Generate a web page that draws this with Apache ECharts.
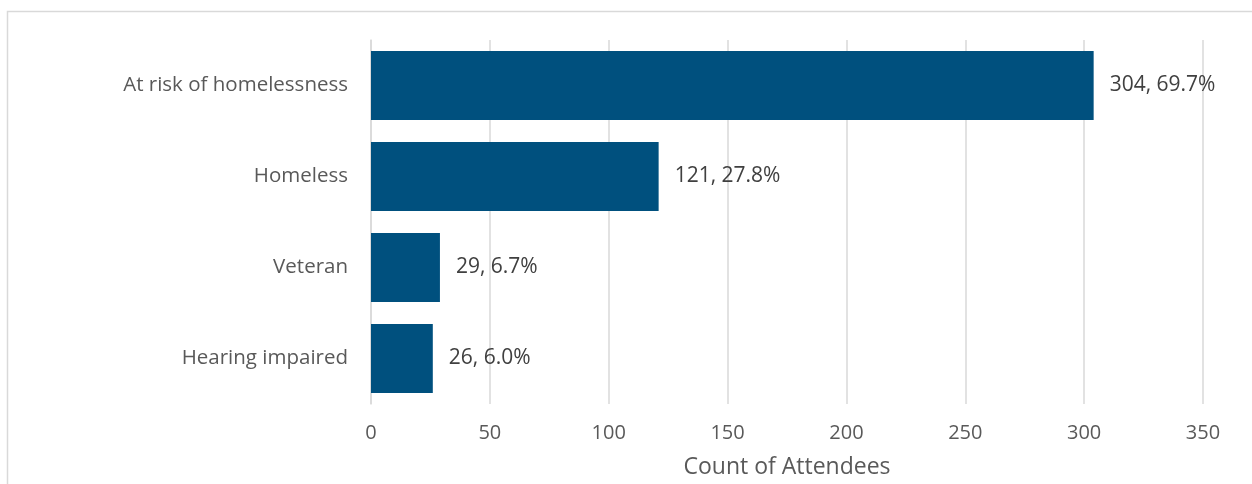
<!DOCTYPE html>
<html>
<head>
<meta charset="utf-8">
<script src="https://cdn.jsdelivr.net/npm/echarts@6/dist/echarts.min.js"></script>
<style>
  html, body { margin: 0; padding: 0; background: #fff; }
  #chart { width: 1252px; height: 484px; }
</style>
</head>
<body>
<div id="chart"></div>
<script>
const categories = ['Hearing impaired', 'Veteran', 'Homeless', 'At risk of homelessness'];
const counts = [26, 29, 121, 304];
const percents = ['6.0%', '6.7%', '27.8%', '69.7%'];
const xTicks = { min: 0, max: 350, interval: 50 };

const chart = echarts.init(document.getElementById('chart'));

const option = {
  animation: false,
  textStyle: { fontFamily: 'Open Sans' },
  graphic: [
    {
      type: 'rect',
      shape: { x: 7.5, y: 11.5, width: 1400, height: 600 },
      style: { fill: 'none', stroke: '#d9d9d9', lineWidth: 1.5 },
      silent: true,
    },
  ],
  grid: {
    left: 371,
    right: 49,
    top: 40,
    bottom: 75,
  },
  xAxis: {
    type: 'value',
    min: xTicks.min,
    max: xTicks.max,
    interval: xTicks.interval,
    name: 'Count of Attendees',
    nameLocation: 'middle',
    nameGap: 52,
    nameTextStyle: { color: '#595959', fontSize: 23 },
    axisLine: { show: false },
    axisTick: { show: false },
    axisLabel: { color: '#595959', fontSize: 20, margin: 19 },
    splitLine: { lineStyle: { color: '#d9d9d9', width: 1.5 } },
  },
  yAxis: {
    type: 'category',
    data: categories,
    axisLine: { show: true, lineStyle: { color: '#d9d9d9', width: 1.5 } },
    axisTick: { show: false },
    axisLabel: { color: '#595959', fontSize: 20.5, margin: 23 },
  },
  series: [
    {
      type: 'bar',
      data: counts,
      barCategoryGap: '24%',
      itemStyle: { color: '#00507e' },
      label: {
        show: true,
        position: 'right',
        distance: 16,
        color: '#404040',
        fontSize: 21,
        formatter: (p) => p.value + ', ' + percents[p.dataIndex],
      },
    },
  ],
};

chart.setOption(option);
</script>
</body>
</html>
